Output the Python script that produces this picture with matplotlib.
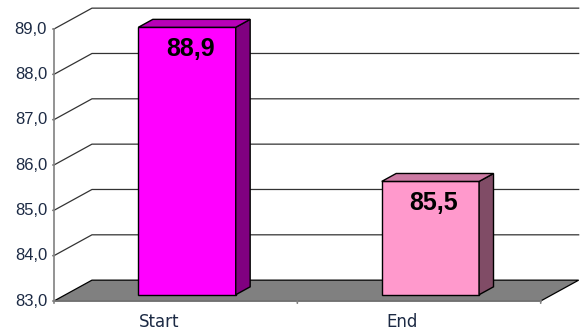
import matplotlib.pyplot as plt
from matplotlib.patches import Polygon

# data
categories = ['Start', 'End']
values = [88.9, 85.5]
value_labels = ['88,9', '85,5']
y_ticks = [83, 84, 85, 86, 87, 88, 89]
y_tick_labels = ['83,0', '84,0', '85,0', '86,0', '87,0', '88,0', '89,0']

front_colors = ['#FF00FF', '#FF99CC']
top_colors = ['#B800B8', '#CC7AA3']
side_colors = ['#800080', '#804C66']

# 3d look: depth offset of back wall in data units
ymin, ymax = 83, 89
DX, DY = 0.156, 0.46
bar_d0, bar_d1 = 0.3, 0.68
bar_w = 0.4

fig = plt.figure(figsize=(5.81, 3.34), dpi=100)
W, H = 581, 334
ax = fig.add_axes([54 / W, (H - 301) / H, 486.7 / W, 272 / H])
ax.set_xlim(0, 2)
ax.set_ylim(ymin, ymax)
ax.axis('off')

# floor
floor = Polygon([(0, ymin), (2, ymin), (2 + DX, ymin + DY), (DX, ymin + DY)],
                closed=True, facecolor='#808080', edgecolor='black', lw=0.9,
                clip_on=False, zorder=1)
ax.add_patch(floor)

# gridlines (left wall diagonal + back wall horizontal)
for v in y_ticks[1:]:
    ax.plot([0, DX, 2 + DX], [v, v + DY, v + DY], color='#333333', lw=0.9,
            clip_on=False, zorder=0.5)

# axes lines
ax.plot([0, 0], [ymin, ymax], color='#808080', lw=1.2, clip_on=False, zorder=2)
ax.plot([0, 2], [ymin, ymin], color='#808080', lw=1.2, clip_on=False, zorder=2)
for v, lab in zip(y_ticks, y_tick_labels):
    ax.annotate('', xy=(0, v), xytext=(-4, 0), textcoords='offset pixels',
                arrowprops=dict(arrowstyle='-', color='#808080', lw=1.2),
                annotation_clip=False)
    ax.annotate(lab, xy=(0, v), xytext=(-7, 0), textcoords='offset pixels',
                ha='right', va='center', fontsize=12, color='#1c2a44',
                family='Liberation Sans', annotation_clip=False)
for xt in [0, 1, 2]:
    ax.annotate('', xy=(xt, ymin), xytext=(0, -5), textcoords='offset pixels',
                arrowprops=dict(arrowstyle='-', color='#808080', lw=1.2),
                annotation_clip=False)
for i, cat in enumerate(categories):
    ax.annotate(cat, xy=(i + 0.5, ymin), xytext=(-17, -21), textcoords='offset pixels',
                ha='center', va='center', fontsize=12, color='#1c2a44',
                family='DejaVu Sans', annotation_clip=False)

# bars
for i, val in enumerate(values):
    x0 = i + 0.5 - bar_w / 2 + bar_d0 * DX
    x1 = x0 + bar_w
    yb = ymin + bar_d0 * DY
    yt = val + bar_d0 * DY
    ddx = (bar_d1 - bar_d0) * DX
    ddy = (bar_d1 - bar_d0) * DY
    front = Polygon([(x0, yb), (x1, yb), (x1, yt), (x0, yt)], closed=True,
                    facecolor=front_colors[i], edgecolor='black', lw=1, zorder=3,
                    clip_on=False)
    side = Polygon([(x1, yb), (x1 + ddx, yb + ddy), (x1 + ddx, yt + ddy), (x1, yt)],
                   closed=True, facecolor=side_colors[i], edgecolor='black', lw=1,
                   zorder=3, clip_on=False)
    top = Polygon([(x0, yt), (x1, yt), (x1 + ddx, yt + ddy), (x0 + ddx, yt + ddy)],
                  closed=True, facecolor=top_colors[i], edgecolor='black', lw=1,
                  zorder=3, clip_on=False)
    for p in (front, side, top):
        ax.add_patch(p)
    ax.annotate(value_labels[i], xy=((x0 + x1) / 2, yt), xytext=(3, -22),
                textcoords='offset pixels', ha='center', va='center',
                fontsize=18, fontweight='bold', color='black',
                family='Liberation Sans', zorder=4, annotation_clip=False)

fig.savefig('out.png', dpi=100)
